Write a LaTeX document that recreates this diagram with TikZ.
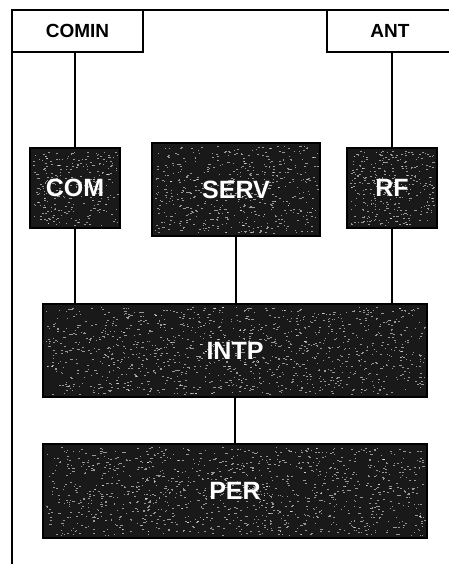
\documentclass[tikz,border=0pt]{standalone}
\usepackage{fontspec}
\setmainfont{Liberation Sans}
% light grain scattered over a dark box: name, inner width, inner height, dot count
\newcommand\boxgrain[4]{%
  \foreach \k in {1,...,#4}{%
    \pgfmathsetmacro\gx{(rnd-0.5)*#2}%
    \pgfmathsetmacro\gy{(rnd-0.5)*#3}%
    \pgfmathsetmacro\gw{0.8+1.6*rnd}%
    \fill[white, opacity=0.55] ([shift={(\gx,\gy)}]#1.center) rectangle ++(\gw,1);
  }%
}
\begin{document}
\begin{tikzpicture}[x=1pt,y=-1pt,
  frame/.style={line width=2.2pt},
  portbox/.style={draw, line width=1.6pt, fill=white, inner sep=0pt,
    font=\bfseries\fontsize{19}{19}\selectfont},
  unitbox/.style={draw, line width=2pt, fill=black!90, text=white, inner sep=0pt,
    font=\bfseries\fontsize{25}{25}\selectfont},
  link/.style={line width=1.6pt}]
  \useasboundingbox (0,0) rectangle (448,564);
  \pgfmathsetseed{7}

  % outer frame (top and left edges)
  \draw[frame] (12,564) -- (12,10) -- (448,10);

  % external ports
  \node[portbox, minimum width=131pt, minimum height=42pt] (comin) at (77.5,31) {COMIN};
  \node[portbox, minimum width=126pt, minimum height=42pt] (ant) at (390,31) {ANT};
  \draw[frame] (12,10) -- (448,10);

  % functional units
  \node[unitbox, minimum width=90pt, minimum height=80pt] (com) at (75,188) {};
  \node[unitbox, minimum width=168pt, minimum height=93pt] (serv) at (236,189.5) {};
  \node[unitbox, minimum width=90pt, minimum height=80pt] (rf) at (392,188) {};
  \node[unitbox, minimum width=384pt, minimum height=93pt] (intp) at (235,350.5) {};
  \node[unitbox, minimum width=384pt, minimum height=94pt] (per) at (235,491) {};

  \boxgrain{com}{84}{74}{260}
  \boxgrain{serv}{162}{87}{520}
  \boxgrain{rf}{84}{74}{320}
  \boxgrain{intp}{378}{87}{1200}
  \boxgrain{per}{378}{88}{1200}

  % unit labels
  \node[unitbox, draw=none, fill=none] at (com.center) {COM};
  \node[unitbox, draw=none, fill=none] at (serv.center) {SERV};
  \node[unitbox, draw=none, fill=none] at (rf.center) {RF};
  \node[unitbox, draw=none, fill=none] at (intp.center) {INTP};
  \node[unitbox, draw=none, fill=none] at (per.center) {PER};

  % connections
  \draw[link] (com.north |- comin.south) -- (com.north);
  \draw[link] (rf.north |- ant.south) -- (rf.north);
  \draw[link] (com.south) -- (com.south |- intp.north);
  \draw[link] (serv.south) -- (serv.south |- intp.north);
  \draw[link] (rf.south) -- (rf.south |- intp.north);
  \draw[link] (intp.south) -- (per.north);
\end{tikzpicture}
\end{document}
